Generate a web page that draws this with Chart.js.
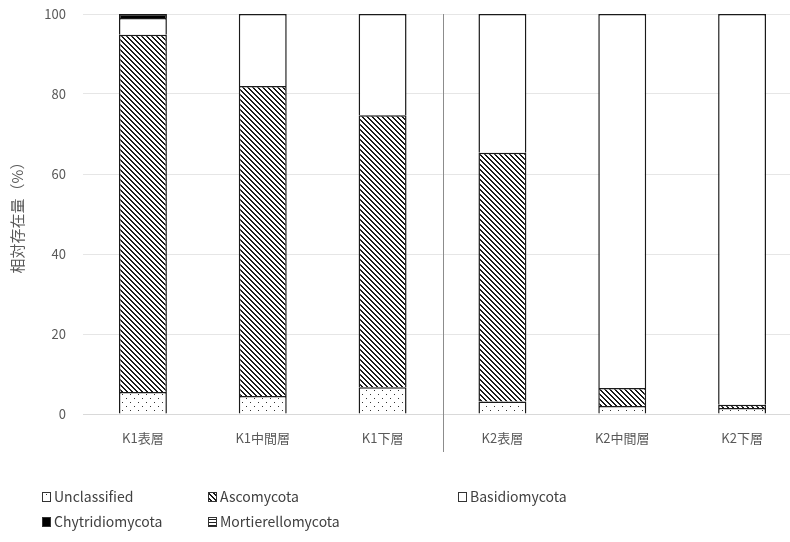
<!DOCTYPE html>
<html>
<head>
<meta charset="utf-8">
<script src="https://cdn.jsdelivr.net/npm/chart.js@4/dist/chart.umd.min.js"></script>
<style>
  html, body { margin: 0; padding: 0; background: #fff; overflow: hidden; }
  #wrap { width: 802px; height: 542px; }
</style>
</head>
<body>
<div id="wrap"><canvas id="myChart"></canvas></div>
<script>
// data
var categories = ['K1表層', 'K1中間層', 'K1下層', 'K2表層', 'K2中間層', 'K2下層'];
var unclassified = [5.5, 4.5, 6.7, 3.1, 2.0, 1.5];
var ascomycota = [89.3, 77.5, 68.0, 62.2, 4.5, 0.8];
var basidiomycota = [4.2, 18.0, 25.3, 34.7, 93.5, 97.7];
var chytridiomycota = [1.0, 0, 0, 0, 0, 0];
var mortierellomycota = [0, 0, 0, 0, 0, 0];
var yTicks = [0, 20, 40, 60, 80, 100];

var FONT = '"Noto Sans CJK JP", "Noto Sans", sans-serif';

function makePattern(w, h, drawFn) {
    var c = document.createElement('canvas');
    c.width = w; c.height = h;
    var g = c.getContext('2d');
    g.fillStyle = '#fff';
    g.fillRect(0, 0, w, h);
    drawFn(g);
    return document.getElementById('myChart').getContext('2d').createPattern(c, 'repeat');
}

var dots = makePattern(8, 8, function (g) {
    g.fillStyle = '#333';
    g.fillRect(2, 2, 1, 1);
    g.fillRect(6, 6, 1, 1);
});
var hatch = makePattern(5, 5, function (g) {
    g.fillStyle = '#1a1a1a';
    for (var i = 0; i < 5; i++) {
        g.fillRect(i, i, 1, 1);
        g.fillRect((i + 1) % 5, i, 1, 1);
    }
});
var hlines = makePattern(4, 3, function (g) {
    g.fillStyle = '#222';
    g.fillRect(0, 0, 4, 1);
});

var series = [
    { label: 'Unclassified', data: unclassified, fill: dots },
    { label: 'Ascomycota', data: ascomycota, fill: hatch },
    { label: 'Basidiomycota', data: basidiomycota, fill: '#ffffff' },
    { label: 'Chytridiomycota', data: chytridiomycota, fill: '#000000' },
    { label: 'Mortierellomycota', data: mortierellomycota, fill: hlines }
];

// legend drawn in the bottom area + group divider line
var extras = {
    id: 'extras',
    afterDraw: function (chart) {
        var ctx = chart.ctx;
        var x = chart.scales.x;
        var area = chart.chartArea;
        var sep = (x.getPixelForValue(2) + x.getPixelForValue(3)) / 2;
        ctx.save();
        ctx.strokeStyle = '#8c8c8c';
        ctx.lineWidth = 1;
        ctx.beginPath();
        ctx.moveTo(Math.round(sep) + 0.5, area.top);
        ctx.lineTo(Math.round(sep) + 0.5, 452);
        ctx.stroke();

        var pos = [[42, 497], [208, 497], [458, 497], [42, 522], [208, 522]];
        ctx.font = '14px ' + FONT;
        ctx.textBaseline = 'middle';
        series.forEach(function (s, i) {
            var p = pos[i];
            ctx.fillStyle = s.fill;
            ctx.fillRect(p[0], p[1] - 5, 9, 10);
            ctx.strokeStyle = '#333';
            ctx.strokeRect(p[0] + 0.5, p[1] - 4.5, 8, 9);
            ctx.fillStyle = '#404040';
            ctx.fillText(s.label, p[0] + 12, p[1]);
        });
        ctx.restore();
    }
};

var ctx = document.getElementById('myChart').getContext('2d');
var chart = new Chart(ctx, {
    type: 'bar',
    data: {
        labels: categories,
        datasets: series.map(function (s) {
            return {
                label: s.label,
                data: s.data,
                backgroundColor: s.fill,
                borderColor: '#1a1a1a',
                borderWidth: 1.5,
                categoryPercentage: 1,
                barPercentage: 0.4
            };
        })
    },
    options: {
        responsive: true,
        maintainAspectRatio: false,
        animation: false,
        layout: { padding: { top: 14, right: 0, left: 0, bottom: 0 } },
        plugins: {
            legend: { display: false },
            tooltip: { enabled: false }
        },
        scales: {
            x: {
                stacked: true,
                grid: { display: false, drawTicks: false },
                border: { color: '#d9d9d9', width: 1 },
                ticks: { color: '#595959', font: { family: FONT, size: 13 }, padding: 16, maxRotation: 0 },
                afterFit: function (s) { s.height = 128; s.paddingLeft = 0; s.paddingRight = 0; }
            },
            y: {
                stacked: true,
                min: 0,
                max: 100,
                afterBuildTicks: function (s) { s.ticks = yTicks.map(function (v) { return { value: v }; }); },
                grid: { color: '#e6e6e6', drawTicks: false },
                border: { display: false },
                ticks: { color: '#595959', font: { family: FONT, size: 13 }, padding: 17 },
                title: {
                    display: true,
                    text: '相対存在量（%）',
                    color: '#595959',
                    font: { family: FONT, size: 15 },
                    padding: { top: 8, bottom: 0 }
                },
                afterFit: function (s) { s.width = 83; s.paddingTop = 0; s.paddingBottom = 0; }
            }
        }
    },
    plugins: [extras]
});
</script>
</body>
</html>
